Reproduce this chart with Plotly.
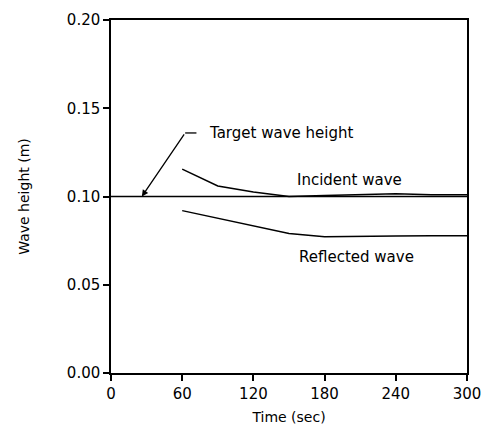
import plotly.graph_objects as go

time_target = [0, 300]
target_height = [0.10, 0.10]

time_meas = [60, 90, 120, 150, 180, 210, 240, 270, 300]
incident = [0.1155, 0.106, 0.1025, 0.1, 0.1005, 0.101, 0.1015, 0.101, 0.101]
reflected = [0.092, 0.0877, 0.0835, 0.079, 0.0772, 0.0772, 0.0776, 0.0778, 0.0778]

x_ticks = [0, 60, 120, 180, 240, 300]
y_ticks = [0.0, 0.05, 0.10, 0.15, 0.20]
y_tick_labels = ["0.00", "0.05", "0.10", "0.15", "0.20"]

FONT = "DejaVu Sans"
line = dict(color="black", width=1.5)

fig = go.Figure()
fig.add_trace(go.Scatter(x=time_target, y=target_height, mode="lines", line=line, showlegend=False))
fig.add_trace(go.Scatter(x=time_meas, y=incident, mode="lines", line=line, showlegend=False))
fig.add_trace(go.Scatter(x=time_meas, y=reflected, mode="lines", line=line, showlegend=False))

# leader for "Target wave height"
fig.add_annotation(x=26, y=0.10, ax=62.5, ay=0.136, xref="x", yref="y", axref="x", ayref="y",
                   text="", showarrow=True, arrowhead=2, arrowsize=1, arrowwidth=1.3, arrowcolor="black",
                   standoff=0, startstandoff=0)
fig.add_shape(type="line", x0=62.5, y0=0.136, x1=72, y1=0.136, line=dict(color="black", width=1.3))

txt = dict(family=FONT, size=15, color="black")
fig.add_annotation(x=81, y=0.136, text="Target wave height", showarrow=False, xanchor="left", font=txt)
fig.add_annotation(x=201, y=0.1095, text="Incident wave", showarrow=False, font=txt)
fig.add_annotation(x=207, y=0.066, text="Reflected wave", showarrow=False, font=txt)

axis_common = dict(showgrid=False, zeroline=False, showline=True, linecolor="black", linewidth=1.5,
                   mirror=True, ticks="outside", ticklen=6, tickwidth=1.5, tickcolor="black",
                   automargin=False,
                   tickfont=dict(family=FONT, size=15, color="black"))
fig.update_xaxes(range=[0, 300], tickvals=x_ticks,
                 title=dict(text="Time (sec)", font=dict(family=FONT, size=14, color="black"), standoff=10),
                 **axis_common)
fig.update_yaxes(range=[0, 0.20], tickvals=y_ticks, ticktext=y_tick_labels,
                 title=dict(text="Wave height (m)", font=dict(family=FONT, size=14, color="black"), standoff=34),
                 **axis_common)

fig.update_layout(width=487, height=438, margin=dict(l=111, r=20, t=20, b=65),
                  plot_bgcolor="white", paper_bgcolor="white")
fig.write_html("out.html", config={"displayModeBar": False},
               post_script="document.body.style.margin='0';")
